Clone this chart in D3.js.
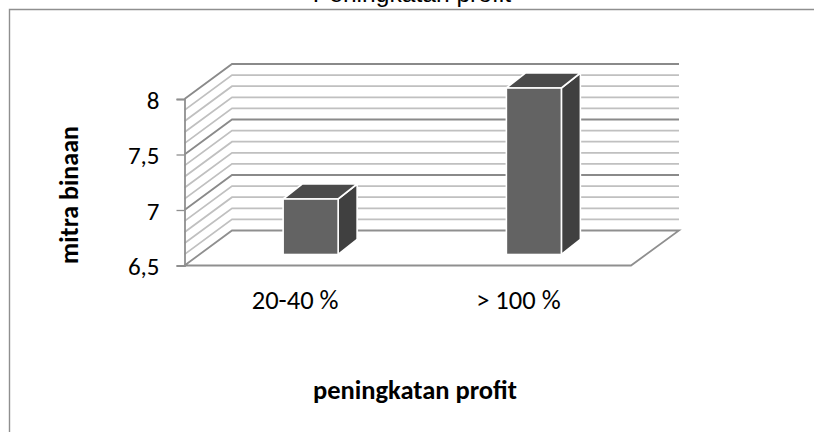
<!DOCTYPE html>
<html><head><meta charset="utf-8">
<script src="https://cdn.jsdelivr.net/npm/d3@7"></script>
<style>html,body{margin:0;padding:0;background:#fff}svg{display:block}</style>
</head><body><svg id="c" width="814" height="432"></svg>
<script>
const categories = ["20-40 %", "> 100 %"];
const values = [7, 8];
const yTicks = [6.5, 7, 7.5, 8];
const gridValues = d3.range(0, 16).map(i => 6.5 + i / 10);
const titleText = "Peningkatan profit";
const xTitle = "peningkatan profit";
const yTitle = "mitra binaan";

const svg = d3.select("#c");
const font = "Carlito, Calibri, 'Open Sans', sans-serif";
const y = d3.scaleLinear().domain([6.5, 8]).range([265.5, 99]);
const x = d3.scaleBand().domain(categories).range([184.5, 631]);
const wallDx = 47.5, wallDy = -35, barDx = 19, barDy = -15, baseLift = 11, barShift = 14.5;
const barCenters = c => x(c) + x.bandwidth() / 2;
const barW = 55;

svg.append("path").attr("d", "M9.5,432V9.5H814").attr("fill", "none").attr("stroke", "#8f8f8f").attr("stroke-width", 1.4);

svg.append("text").attr("x", 412).attr("y", 2).attr("text-anchor", "middle")
  .attr("font-family", "'Liberation Sans', Arial, sans-serif").attr("font-size", 24.6).attr("fill", "#000").text(titleText);

const isMajor = v => Math.abs((v - 6.5) * 2 - Math.round((v - 6.5) * 2)) < 1e-6;
const gridCol = v => isMajor(v) ? "#8a8a8a" : "#c0c0c0";

const g = svg.append("g").attr("fill", "none");
g.selectAll("path.g").data(gridValues.filter(v => v > 6.5)).join("path")
  .attr("d", v => `M${184.5},${y(v)}L${184.5 + wallDx},${y(v) + wallDy}L${679},${y(v) + wallDy}`)
  .attr("stroke", gridCol).attr("stroke-width", 1.8);

g.append("path").attr("d", `M184.5,${y(6.5)}L${184.5 + wallDx},${y(6.5) + wallDy}L679,${y(6.5) + wallDy}L631,${y(6.5)}Z`)
  .attr("stroke", "#8f8f8f").attr("stroke-width", 1.8).attr("fill", "#fff");

const axis = d3.axisLeft(y).tickValues(yTicks).tickSize(8).tickPadding(17).tickFormat(d => String(d).replace(".", ","));
const ax = svg.append("g").attr("transform", "translate(184.5,0)").call(axis);
ax.select(".domain").attr("stroke", "#8f8f8f").attr("stroke-width", 1.8);
ax.selectAll("line").attr("stroke", "#8f8f8f").attr("stroke-width", 1.3);
ax.selectAll("text").attr("font-family", font).attr("font-size", 25).attr("fill", "#000").attr("dy", "0.36em");

const bars = svg.append("g").selectAll("g").data(categories.map((c, i) => ({ c, v: values[i] }))).join("g");
const X0 = d => barCenters(d.c) + barShift - barW / 2;
const TOP = d => y(d.v) - baseLift;
const BOT = () => y(6.5) - baseLift;
bars.append("path")
  .attr("d", d => `M${X0(d) + barW},${TOP(d)}L${X0(d) + barW + barDx},${TOP(d) + barDy}L${X0(d) + barW + barDx},${BOT() + barDy}L${X0(d) + barW},${BOT()}Z`)
  .attr("fill", "#404040").attr("stroke", "#fff").attr("stroke-width", 1.6);
bars.append("path")
  .attr("d", d => `M${X0(d)},${TOP(d)}L${X0(d) + barDx},${TOP(d) + barDy}L${X0(d) + barW + barDx},${TOP(d) + barDy}L${X0(d) + barW},${TOP(d)}Z`)
  .attr("fill", "#4a4a4a").attr("stroke", "#fff").attr("stroke-width", 1.6);
bars.append("rect")
  .attr("x", X0).attr("y", TOP).attr("width", barW).attr("height", d => BOT() - TOP(d))
  .attr("fill", "#636363").attr("stroke", "#fff").attr("stroke-width", 1.6);

svg.append("g").selectAll("text").data(categories).join("text")
  .attr("x", c => barCenters(c) - 1).attr("y", 308.5).attr("text-anchor", "middle")
  .attr("font-family", font).attr("font-size", 26.5).attr("fill", "#000").text(d => d);

svg.append("text").attr("x", 415).attr("y", 399).attr("text-anchor", "middle")
  .attr("font-family", font).attr("font-size", 26.5).attr("font-weight", "bold").attr("fill", "#000").text(xTitle);
svg.append("text").attr("transform", "translate(78,195) rotate(-90)").attr("text-anchor", "middle")
  .attr("font-family", font).attr("font-size", 26).attr("font-weight", "bold").attr("fill", "#000").text(yTitle);
</script></body></html>
